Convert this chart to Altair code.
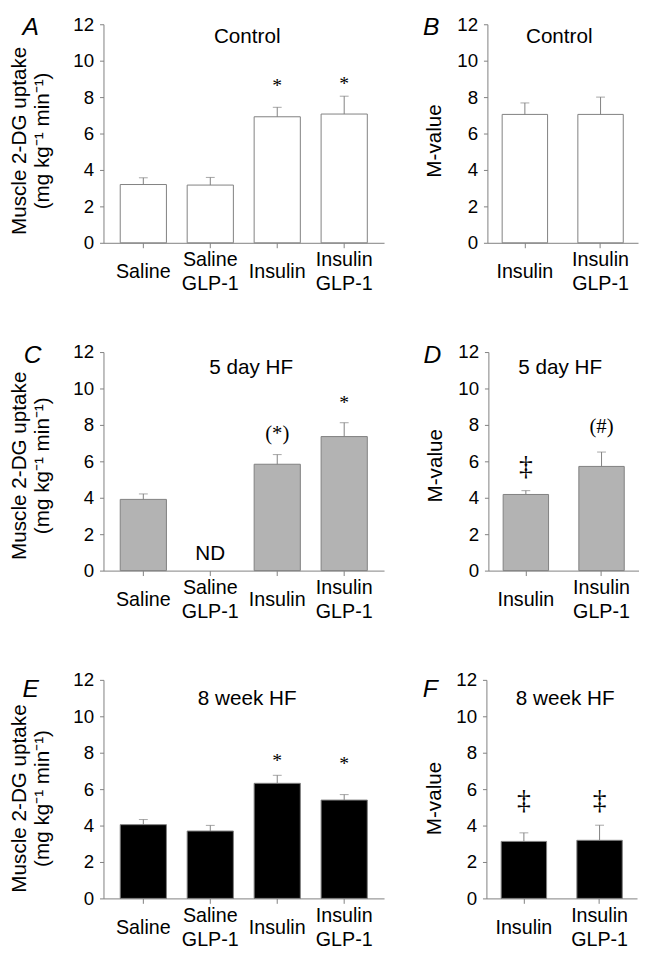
import altair as alt
import pandas as pd

# ---------------- data ----------------
CATS4 = ["Saline", "Saline\nGLP-1", "Insulin", "Insulin\nGLP-1"]
CATS2 = ["Insulin", "Insulin\nGLP-1"]

uptake_control = [3.20, 3.17, 6.92, 7.07]
uptake_control_err = [0.37, 0.42, 0.52, 0.98]
uptake_5day = [3.91, None, 5.84, 7.36]
uptake_5day_err = [0.30, None, 0.53, 0.76]
uptake_8week = [4.05, 3.70, 6.32, 5.40]
uptake_8week_err = [0.28, 0.31, 0.44, 0.30]

mvalue_control = [7.05, 7.05]
mvalue_control_err = [0.63, 0.95]
mvalue_5day = [4.18, 5.72]
mvalue_5day_err = [0.21, 0.79]
mvalue_8week = [3.13, 3.19]
mvalue_8week_err = [0.47, 0.83]

# annotations: (category, y-value, text)
ann_A = [("Insulin", 8.88, "*"), ("Insulin\nGLP-1", 9.0, "*")]
ann_B = []
ann_C = [("Saline\nGLP-1", 0.9, "ND"), ("Insulin", 7.5, "(*)"), ("Insulin\nGLP-1", 9.49, "*")]
ann_D = [("Insulin", 5.68, "‡"), ("Insulin\nGLP-1", 7.9, "(#)")]
ann_E = [("Insulin", 7.79, "*"), ("Insulin\nGLP-1", 7.65, "*")]
ann_F = [("Insulin", 5.36, "‡"), ("Insulin\nGLP-1", 5.36, "‡")]

TITLE_UPTAKE = ["Muscle 2-DG uptake", "(mg kg\u207b\u00b9 min\u207b\u00b9)"]
TITLE_M = "M-value"

# ---------------- style ----------------
SANS = "Liberation Sans"
SERIF = "Liberation Serif"
GRAY = "#808080"
FILL_CONTROL = "#ffffff"
FILL_5DAY = "#b3b3b3"
FILL_8WEEK = "#000000"

ANN_STYLE = {
    "*": dict(font=SERIF, fontSize=20, dy=5),
    "(*)": dict(font=SERIF, fontSize=21, dy=0),
    "(#)": dict(font=SERIF, fontSize=21, dy=0),
    "‡": dict(font=SERIF, fontSize=28, dy=0),
    "ND": dict(font=SANS, fontSize=21, dy=0),
}

LEFT_W, RIGHT_W, H = 285, 153, 222


def panel(cats, means, errs, fill, ann, ytitle, width, pad_in, pad_out, title_pad,
          title, title_x, title_y, letter, letter_x, letter_y, ytitle_shift):
    df = pd.DataFrame({"cat": cats, "mean": means, "err": errs})
    df = df.dropna()
    df["hi"] = df["mean"] + df["err"]

    xenc = alt.X(
        "cat:N", sort=cats,
        scale=alt.Scale(domain=cats, paddingInner=pad_in, paddingOuter=pad_out),
        axis=alt.Axis(title=None, labels=False, tickSize=5),
    )
    yscale = alt.Scale(domain=[0, 12], nice=False, zero=True)
    yaxis = alt.Axis(title=ytitle, values=[0, 2, 4, 6, 8, 10, 12], grid=False,
                     tickSize=4, labelPadding=6, labelFontSize=19,
                     titlePadding=title_pad, titleY=H / 2 + ytitle_shift)

    base = alt.Chart(df)
    bars = base.mark_bar(fill=fill, stroke=GRAY, strokeWidth=1).encode(
        x=xenc, y=alt.Y("mean:Q", scale=yscale, axis=yaxis))
    rule = base.mark_rule(color=GRAY, strokeWidth=1).encode(
        x=xenc, y=alt.Y("mean:Q", scale=yscale, axis=yaxis), y2="hi:Q")
    cap = base.mark_tick(color=GRAY, thickness=1, size=9).encode(
        x=xenc, y=alt.Y("hi:Q", scale=yscale, axis=yaxis))
    layers = [bars, rule, cap]

    # category labels: two-line ones centred on the same middle as one-line ones
    lab = alt.Chart(pd.DataFrame({"cat": cats})).transform_calculate(
        lines="split(datum.cat, '\\n')",
        n="length(split(datum.cat, '\\n'))",
    )
    layers.append(lab.transform_filter("datum.n == 1").mark_text(
        fontSize=20, font=SANS, baseline="middle", align="center", color="black"
    ).encode(x=xenc, y=alt.value(H + 30), text="cat:N"))
    layers.append(lab.transform_filter("datum.n > 1").mark_text(
        fontSize=20, font=SANS, baseline="middle", align="center", color="black",
        lineHeight=24
    ).encode(x=xenc, y=alt.value(H + 18), text="lines:N"))

    for sym, st in ANN_STYLE.items():
        rows = [a for a in ann if a[2] == sym]
        if not rows:
            continue
        adf = pd.DataFrame({"cat": [r[0] for r in rows],
                            "ay": [r[1] for r in rows],
                            "t": [r[2] for r in rows]})
        layers.append(
            alt.Chart(adf).mark_text(font=st["font"], fontSize=st["fontSize"],
                                     dy=st["dy"], baseline="middle",
                                     align="center", color="black").encode(
                x=xenc, y=alt.Y("ay:Q", scale=yscale, axis=yaxis), text="t:N"))

    tdf = pd.DataFrame({"t": [title]})
    layers.append(alt.Chart(tdf).mark_text(font=SANS, fontSize=21, align="center",
                                           baseline="middle", color="black").encode(
        x=alt.value(title_x), y=alt.value(title_y), text="t:N"))
    ldf = pd.DataFrame({"t": [letter]})
    layers.append(alt.Chart(ldf).mark_text(font=SANS, fontSize=25, fontStyle="italic",
                                           align="center", baseline="middle",
                                           color="black").encode(
        x=alt.value(letter_x), y=alt.value(letter_y), text="t:N"))

    return alt.layer(*layers).properties(width=width, height=H)


L = dict(width=LEFT_W, pad_in=0.31, pad_out=0.25, title_pad=21)
R = dict(width=RIGHT_W, pad_in=0.40, pad_out=0.195, title_pad=12)

pA = panel(CATS4, uptake_control, uptake_control_err, FILL_CONTROL, ann_A, TITLE_UPTAKE,
           title="Control", title_x=146, title_y=13, letter="A", letter_x=-74, letter_y=3,
           ytitle_shift=7, **L)
pB = panel(CATS2, mvalue_control, mvalue_control_err, FILL_CONTROL, ann_B, TITLE_M,
           title="Control", title_x=73, title_y=13, letter="B", letter_x=-57, letter_y=3,
           ytitle_shift=7, **R)
pC = panel(CATS4, uptake_5day, uptake_5day_err, FILL_5DAY, ann_C, TITLE_UPTAKE,
           title="5 day HF", title_x=150, title_y=16, letter="C", letter_x=-72, letter_y=3,
           ytitle_shift=4, **L)
pD = panel(CATS2, mvalue_5day, mvalue_5day_err, FILL_5DAY, ann_D, TITLE_M,
           title="5 day HF", title_x=73, title_y=16, letter="D", letter_x=-57, letter_y=3,
           ytitle_shift=4, **R)
pE = panel(CATS4, uptake_8week, uptake_8week_err, FILL_8WEEK, ann_E, TITLE_UPTAKE,
           title="8 week HF", title_x=146, title_y=20, letter="E", letter_x=-74, letter_y=9,
           ytitle_shift=9, **L)
pF = panel(CATS2, mvalue_8week, mvalue_8week_err, FILL_8WEEK, ann_F, TITLE_M,
           title="8 week HF", title_x=80, title_y=20, letter="F", letter_x=-57, letter_y=9,
           ytitle_shift=9, **R)

HSP = 39
chart = alt.vconcat(
    alt.hconcat(pA, pB, spacing=HSP),
    alt.hconcat(pC, pD, spacing=HSP),
    alt.hconcat(pE, pF, spacing=HSP),
    spacing=50,
).properties(
    padding={"left": 0, "top": 0, "right": 0, "bottom": 0}
).configure_view(stroke=None).configure_axis(
    domainColor=GRAY, tickColor=GRAY, labelColor="black", titleColor="black",
    labelFont=SANS, titleFont=SANS, titleFontWeight="normal", titleFontSize=21,
    titleLineHeight=23, domainWidth=1, tickWidth=1,
).configure_text(font=SANS)

chart.save("out.html", embed_options={"renderer": "svg", "actions": False})
